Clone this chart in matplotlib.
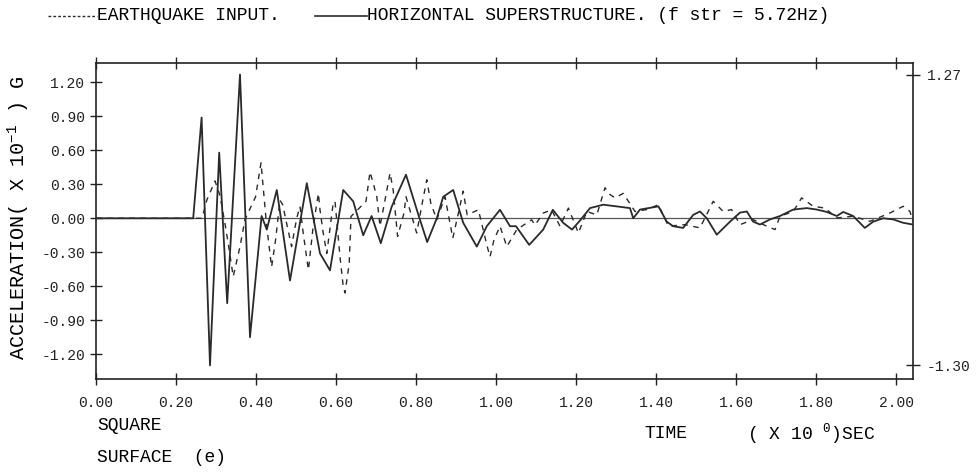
import matplotlib
matplotlib.use('Agg')
import matplotlib.pyplot as plt
from matplotlib.lines import Line2D

plt.rcParams['font.family'] = ['Liberation Mono', 'DejaVu Sans Mono']
plt.rcParams['mathtext.fontset'] = 'custom'
plt.rcParams['mathtext.rm'] = 'Liberation Mono'

# ---- data (time in s, acceleration in x10^-1 G) ----
t_str = [0.00, 0.10, 0.20, 0.243, 0.264, 0.285, 0.308, 0.328, 0.360, 0.385,
         0.414, 0.427, 0.452, 0.485, 0.527, 0.560, 0.585, 0.618, 0.643, 0.668,
         0.689, 0.712, 0.739, 0.775, 0.806, 0.828, 0.852, 0.868, 0.893, 0.918,
         0.952, 0.977, 1.010, 1.035, 1.050, 1.083, 1.118, 1.142, 1.168, 1.190,
         1.210, 1.235, 1.268, 1.302, 1.335, 1.343, 1.360, 1.406, 1.427, 1.443,
         1.468, 1.493, 1.510, 1.527, 1.552, 1.585, 1.610, 1.627, 1.643, 1.660,
         1.685, 1.710, 1.743, 1.777, 1.802, 1.827, 1.852, 1.868, 1.893, 1.922,
         1.943, 1.968, 1.993, 2.018, 2.042]
a_str = [0.00, 0.00, 0.00, 0.00, 0.89, -1.30, 0.58, -0.75, 1.27, -1.05,
         0.02, -0.10, 0.25, -0.55, 0.31, -0.31, -0.46, 0.25, 0.15, -0.15,
         0.02, -0.22, 0.10, 0.385, 0.03, -0.21, 0.00, 0.19, 0.25, -0.04,
         -0.25, -0.07, 0.075, -0.07, -0.07, -0.235, -0.10, 0.075, -0.04, -0.10,
         -0.02, 0.09, 0.12, 0.105, 0.09, 0.00, 0.077, 0.105, -0.03, -0.07,
         -0.085, 0.03, 0.06, 0.00, -0.145, -0.03, 0.05, 0.06, -0.03, -0.055,
         -0.01, 0.02, 0.077, 0.09, 0.077, 0.056, 0.02, 0.056, 0.02, -0.085,
         -0.03, 0.00, -0.01, -0.04, -0.055]

t_eq = [0.00, 0.10, 0.20, 0.265, 0.277, 0.2975, 0.310, 0.325, 0.333, 0.343,
        0.360, 0.3725, 0.399, 0.4125, 0.4267, 0.439, 0.449, 0.460, 0.4667, 0.489,
        0.5017, 0.510, 0.518, 0.531, 0.543, 0.556, 0.560, 0.568, 0.577, 0.593,
        0.5975, 0.610, 0.618, 0.6225, 0.633, 0.6375, 0.675, 0.685, 0.693, 0.702,
        0.710, 0.7225, 0.735, 0.743, 0.754, 0.770, 0.775, 0.8017, 0.817, 0.827,
        0.837, 0.852, 0.8725, 0.892, 0.906, 0.918, 0.928, 0.956, 0.977, 0.985,
        0.995, 1.010, 1.027, 1.052, 1.089, 1.0975, 1.118, 1.139, 1.160, 1.181,
        1.206, 1.227, 1.252, 1.2725, 1.285, 1.2975, 1.318, 1.331, 1.3475, 1.377,
        1.406, 1.431, 1.4725, 1.510, 1.543, 1.568, 1.589, 1.610, 1.643, 1.668,
        1.6975, 1.710, 1.743, 1.764, 1.793, 1.8225, 1.852, 1.893, 1.935, 1.985,
        2.018, 2.035, 2.042]
a_eq = [0.00, 0.00, 0.00, 0.00, 0.16, 0.33, 0.20, -0.10, -0.28, -0.515,
        -0.25, -0.01, 0.19, 0.49, -0.07, -0.43, -0.19, 0.16, 0.12, -0.25,
        0.00, 0.105, -0.13, -0.456, -0.07, 0.22, 0.075, -0.13, -0.31, 0.134,
        0.15, -0.34, -0.60, -0.66, -0.40, 0.016, 0.15, 0.41, 0.31, 0.19,
        -0.07, 0.16, 0.40, 0.25, -0.16, 0.046, 0.19, -0.13, 0.16, 0.34,
        0.134, -0.013, 0.19, -0.175, 0.046, 0.24, 0.03, 0.075, -0.235, -0.34,
        -0.19, -0.07, -0.25, -0.10, -0.013, -0.06, 0.046, 0.075, -0.07, 0.09,
        -0.13, 0.06, 0.03, 0.27, 0.21, 0.18, 0.22, 0.15, 0.06, 0.077,
        0.12, -0.07, -0.056, -0.085, 0.15, 0.06, 0.077, -0.056, -0.012, -0.056,
        -0.10, 0.018, 0.06, 0.18, 0.106, 0.09, 0.003, 0.018, -0.027, 0.047,
        0.106, 0.06, -0.027]

x_ticks = [0.0, 0.2, 0.4, 0.6, 0.8, 1.0, 1.2, 1.4, 1.6, 1.8, 2.0]
x_labels = ['0.00', '0.20', '0.40', '0.60', '0.80', '1.00', '1.20', '1.40',
            '1.60', '1.80', '2.00']
y_ticks = [-1.2, -0.9, -0.6, -0.3, 0.0, 0.3, 0.6, 0.9, 1.2]
y_labels = ['-1.20', '-0.90', '-0.60', '-0.30', '0.00', '0.30', '0.60',
            '0.90', '1.20']
peak_ticks = [1.27, -1.30]
peak_labels = ['1.27', '-1.30']

W, H = 977, 472
fig = plt.figure(figsize=(W / 100, H / 100), dpi=100)
L, R, T, B = 96, 913, 63, 379
ax = fig.add_axes([L / W, 1 - B / H, (R - L) / W, (B - T) / H])

ink = '#2a2a2a'
ax.axhline(0, color='#555555', lw=0.9, zorder=1)
ax.plot(t_eq, a_eq, color=ink, lw=1.0, linestyle=(0, (4, 4)), zorder=2)
ax.plot(t_str, a_str, color=ink, lw=1.3, zorder=3)

ax.set_xlim(0, 2.0425)
ax.set_ylim(-1.42, 1.372)
for s in ax.spines.values():
    s.set_linewidth(1.2)
    s.set_color('#222222')

ax.set_xticks(x_ticks)
ax.set_xticklabels(x_labels, fontsize=10.5)
ax.set_yticks(y_ticks)
ax.set_yticklabels(y_labels, fontsize=10.5)
ax.tick_params(axis='x', direction='inout', length=8, width=1.0, pad=8,
               top=True, colors='#222222')
ax.tick_params(axis='y', direction='inout', length=8, width=1.0, pad=4,
               right=True, colors='#222222')

ax2 = ax.twinx()
ax2.set_ylim(ax.get_ylim())
ax2.set_yticks(peak_ticks)
ax2.set_yticklabels(peak_labels, fontsize=10.5)
ax2.tick_params(axis='y', direction='inout', length=10, width=1.0, pad=5,
                colors='#222222')
for s in ax2.spines.values():
    s.set_visible(False)

fig.text(19 / W, 1 - 218 / H, r'ACCELERATION( X 10$^{\mathregular{-1}}$ ) G',
         fontsize=14.5, rotation=90, ha='center', va='center')

# legend (header)
fig.add_artist(Line2D([48 / W, 97 / W], [1 - 16 / H] * 2, color=ink, lw=1.0,
                      linestyle=(0, (2, 1.5))))
fig.text(97 / W, 1 - 16 / H, 'EARTHQUAKE INPUT.', fontsize=13, va='center',
         ha='left')
fig.add_artist(Line2D([315 / W, 367 / W], [1 - 16 / H] * 2, color=ink, lw=1.2))
fig.text(367 / W, 1 - 16 / H, 'HORIZONTAL SUPERSTRUCTURE. (f str = 5.72Hz)',
         fontsize=13, va='center', ha='left')

# bottom annotations
fig.text(97 / W, 1 - 426 / H, 'SQUARE', fontsize=13, va='center', ha='left')
fig.text(97 / W, 1 - 458 / H, 'SURFACE  (e)', fontsize=13, va='center', ha='left')
fig.text(644 / W, 1 - 434 / H, 'TIME', fontsize=13, va='center', ha='left')
fig.text(747 / W, 1 - 434 / H, r'( X 10 $^{\mathregular{0}}$)SEC', fontsize=13,
         va='center', ha='left')

fig.savefig('out.png', dpi=100)
